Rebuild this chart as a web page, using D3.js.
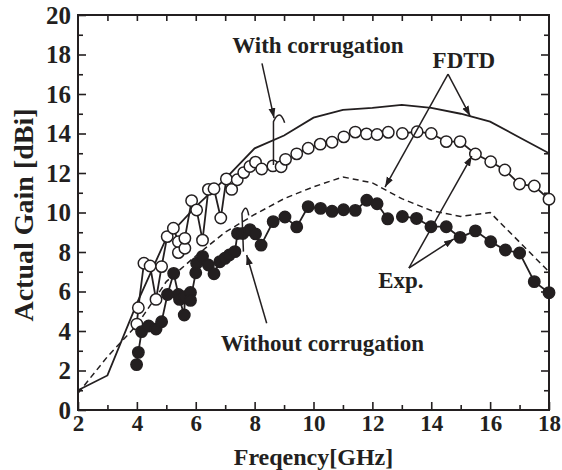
<!DOCTYPE html>
<html>
<head>
<meta charset="utf-8">
<script src="https://cdn.jsdelivr.net/npm/d3@7"></script>
<style>
  body { margin: 0; background: #fff; }
  text { font-family: "Liberation Serif", "Times New Roman", serif; font-weight: bold; fill: #231f20; }
</style>
</head>
<body>
<div id="svg"></div>
<script>
// datos
const frec_fdtd = [2, 3, 4, 5, 6, 7, 8, 9, 10, 11, 12, 13, 14, 15, 16, 17, 18];
const fdtd_con = [1.0, 1.75, 5.4, 8.7, 10.3, 11.7, 13.25, 13.9, 14.8, 15.2, 15.3, 15.45, 15.3, 15.0, 14.6, 13.8, 13.0];
const fdtd_sin = [0.85, 2.7, 4.3, 6.5, 7.8, 9.0, 9.9, 10.7, 11.3, 11.8, 11.5, 10.7, 10.1, 9.8, 10.0, 8.5, 7.0];

// medidas con corrugacion (circulos abiertos), dos bandas
const frec_con_1 = [4.0, 4.05, 4.24, 4.45, 4.65, 4.84, 5.03, 5.24, 5.41, 5.41, 5.63, 5.63, 5.86, 6.03, 6.23, 6.43, 6.62, 6.85, 7.04, 7.22, 7.41, 7.63, 7.84, 8.03, 8.24, 8.62, 8.9, 9.05, 9.43, 9.82, 10.23, 10.63, 11.03, 11.42, 11.8, 12.16, 12.54];
const exp_con_1 = [4.35, 5.18, 7.43, 7.29, 5.6, 7.26, 8.78, 9.2, 8.52, 7.97, 8.19, 8.69, 10.6, 10.13, 8.6, 11.17, 11.2, 9.72, 11.7, 11.17, 11.66, 12.02, 12.33, 12.55, 12.2, 12.36, 12.32, 12.69, 12.97, 13.25, 13.46, 13.56, 13.83, 14.07, 13.98, 13.95, 14.06];
const frec_con_2 = [13.02, 13.52, 14.0, 14.51, 14.98, 15.5, 16.02, 16.5, 17.0, 17.5, 18.0];
const exp_con_2 = [14.0, 14.09, 14.0, 13.59, 13.59, 12.96, 12.57, 12.15, 11.44, 11.34, 10.67];

// medidas sin corrugacion (circulos llenos)
const frec_sin_1 = [3.99, 4.05, 4.16, 4.4, 4.65, 4.84, 5.04, 5.25, 5.41, 5.45, 5.61, 5.63, 5.82, 5.82, 6.0, 6.03, 6.23, 6.43, 6.62, 6.82, 6.99, 7.14, 7.33, 7.42, 7.6, 7.84, 8.03, 8.22, 8.63, 9.03, 9.43, 9.82, 10.24, 10.63, 11.02, 11.42, 11.81, 12.16, 12.52];
const exp_sin_1 = [2.3, 2.92, 3.97, 4.25, 4.1, 4.47, 5.85, 6.92, 5.85, 5.6, 4.81, 5.74, 5.95, 5.55, 6.95, 7.43, 7.78, 7.34, 6.9, 7.51, 7.68, 7.85, 8.02, 8.94, 8.94, 9.13, 8.92, 8.35, 9.54, 9.77, 9.27, 10.3, 10.21, 10.06, 10.14, 10.11, 10.62, 10.44, 9.68];
const frec_sin_2 = [13.02, 13.5, 13.99, 14.51, 14.98, 15.5, 16.02, 16.52, 17.0, 17.5, 18.0];
const exp_sin_2 = [9.8, 9.7, 9.28, 9.28, 8.74, 9.07, 8.52, 8.1, 7.95, 6.5, 5.94];

const ticks_x = [2, 4, 6, 8, 10, 12, 14, 16, 18];
const ticks_y = [0, 2, 4, 6, 8, 10, 12, 14, 16, 18, 20];

const width = 562;
const height = 470;
const margin = { top: 15, bottom: 60, left: 78, right: 13 };
const color = "#231f20";

const svg = d3.select("#svg").append("svg")
    .attr("width", width)
    .attr("height", height);

const x = d3.scaleLinear().domain([2, 18]).range([margin.left, width - margin.right]);
const y = d3.scaleLinear().domain([0, 20]).range([height - margin.bottom, margin.top]);

const zip = (fs, gs) => fs.map((f, i) => [f, gs[i]]);
const linea = d3.line().x((d) => x(d[0])).y((d) => y(d[1]));

// ejes con marcas hacia adentro
const menores_x = d3.range(3, 18, 2);
const menores_y = d3.range(1, 20, 2);
const fondo = height - margin.bottom;
const derecha = width - margin.right;

const ejes = [
    [d3.axisBottom(x).tickValues(ticks_x).tickSize(-8).tickPadding(5), `translate(0,${fondo})`, "23px"],
    [d3.axisBottom(x).tickValues(menores_x).tickSize(-5).tickFormat(""), `translate(0,${fondo})`, null],
    [d3.axisTop(x).tickValues(d3.range(3, 18, 1)).tickSize(-6).tickFormat(""), `translate(0,${margin.top})`, null],
    [d3.axisLeft(y).tickValues(ticks_y).tickSize(-8).tickPadding(7), `translate(${margin.left},0)`, "25px"],
    [d3.axisLeft(y).tickValues(menores_y).tickSize(-5).tickFormat(""), `translate(${margin.left},0)`, null],
    [d3.axisRight(y).tickValues(ticks_y.slice(1, -1)).tickSize(-8).tickFormat(""), `translate(${derecha},0)`, null],
    [d3.axisRight(y).tickValues(menores_y).tickSize(-5).tickFormat(""), `translate(${derecha},0)`, null],
];
ejes.forEach(([eje, tr, tam]) => {
    const g = svg.append("g").attr("transform", tr).call(eje.tickSizeOuter(0));
    g.select(".domain").remove();
    g.selectAll("line").attr("stroke", color).attr("stroke-width", 1.6);
    if (tam) {
        g.selectAll("text").attr("fill", color).style("font-size", tam)
            .style("font-family", '"Liberation Serif", serif').style("font-weight", "bold");
    }
});

svg.append("rect")
    .attr("x", margin.left).attr("y", margin.top)
    .attr("width", derecha - margin.left).attr("height", fondo - margin.top)
    .attr("fill", "none").attr("stroke", color).attr("stroke-width", 2);

// titulos de ejes
svg.append("text")
    .attr("x", (margin.left + derecha) / 2).attr("y", 465)
    .attr("text-anchor", "middle").style("font-size", "24px")
    .text("Freqency[GHz]");
svg.append("text")
    .attr("transform", "translate(33,215) rotate(-90)")
    .attr("text-anchor", "middle").style("font-size", "28px")
    .text("Actual Gain [dBi]");

// curvas FDTD
svg.append("path").datum(zip(frec_fdtd, fdtd_con))
    .attr("d", linea).attr("fill", "none").attr("stroke", color).attr("stroke-width", 1.8);
svg.append("path").datum(zip(frec_fdtd, fdtd_sin))
    .attr("d", linea).attr("fill", "none").attr("stroke", color).attr("stroke-width", 1.5)
    .attr("stroke-dasharray", "6,4");

// medidas
const series = [
    [zip(frec_con_1, exp_con_1), "#fff"],
    [zip(frec_con_2, exp_con_2), "#fff"],
    [zip(frec_sin_1, exp_sin_1), color],
    [zip(frec_sin_2, exp_sin_2), color],
];
series.forEach(([datos]) => {
    svg.append("path").datum(datos)
        .attr("d", linea).attr("fill", "none").attr("stroke", color).attr("stroke-width", 1.8);
});
series.forEach(([datos, relleno]) => {
    svg.append("g").selectAll("circle")
        .data(datos).join("circle")
        .attr("cx", (d) => x(d[0])).attr("cy", (d) => y(d[1]))
        .attr("r", 5.7)
        .attr("fill", relleno).attr("stroke", color).attr("stroke-width", 1.5);
});

// flechas y textos (en unidades de los datos)
svg.append("defs").append("marker")
    .attr("id", "punta").attr("viewBox", "0 0 10 10")
    .attr("refX", 10).attr("refY", 5)
    .attr("markerWidth", 10).attr("markerHeight", 10)
    .attr("markerUnits", "userSpaceOnUse")
    .attr("orient", "auto")
    .append("path").attr("d", "M0,1.5L10,5L0,8.5Z").attr("fill", color);

const flechas = [
    [[8.25, 17.55], [8.66, 14.78]],
    [[8.41, 4.39], [7.73, 7.85]],
    [[14.57, 17.01], [12.43, 11.29]],
    [[14.57, 17.01], [15.32, 14.89]],
    [[13.24, 7.19], [15.38, 12.86]],
    [[13.24, 7.19], [14.77, 8.66]],
];
flechas.forEach(([a, b]) => {
    svg.append("line")
        .attr("x1", x(a[0])).attr("y1", y(a[1]))
        .attr("x2", x(b[0])).attr("y2", y(b[1]))
        .attr("stroke", color).attr("stroke-width", 1.5)
        .attr("marker-end", "url(#punta)");
});

// ganchos que agrupan las dos curvas
const ganchos = [
    [[8.64, 14.6], [8.64, 12.4], [8.85, 15.0], [9.02, 14.55]],
    [[7.57, 9.95], [7.62, 8.02], [7.72, 10.22], [7.8, 9.85]],
];
ganchos.forEach(([arriba, abajo, cima, fin]) => {
    svg.append("path")
        .attr("d", `M${x(abajo[0])},${y(abajo[1])}L${x(arriba[0])},${y(arriba[1])}` +
            `Q${x(cima[0])},${y(cima[1]) - 6} ${x(fin[0])},${y(fin[1])}`)
        .attr("fill", "none").attr("stroke", color).attr("stroke-width", 1.5);
});

const textos = [
    ["With corrugation", 10.15, 18.08],
    ["FDTD", 15.11, 17.3],
    ["Without corrugation", 10.3, 3.0],
    ["Exp.", 12.97, 6.18],
];
textos.forEach(([t, f, g]) => {
    svg.append("text")
        .attr("x", x(f)).attr("y", y(g))
        .attr("text-anchor", "middle").style("font-size", "23px")
        .text(t);
});
</script>
</body>
</html>
